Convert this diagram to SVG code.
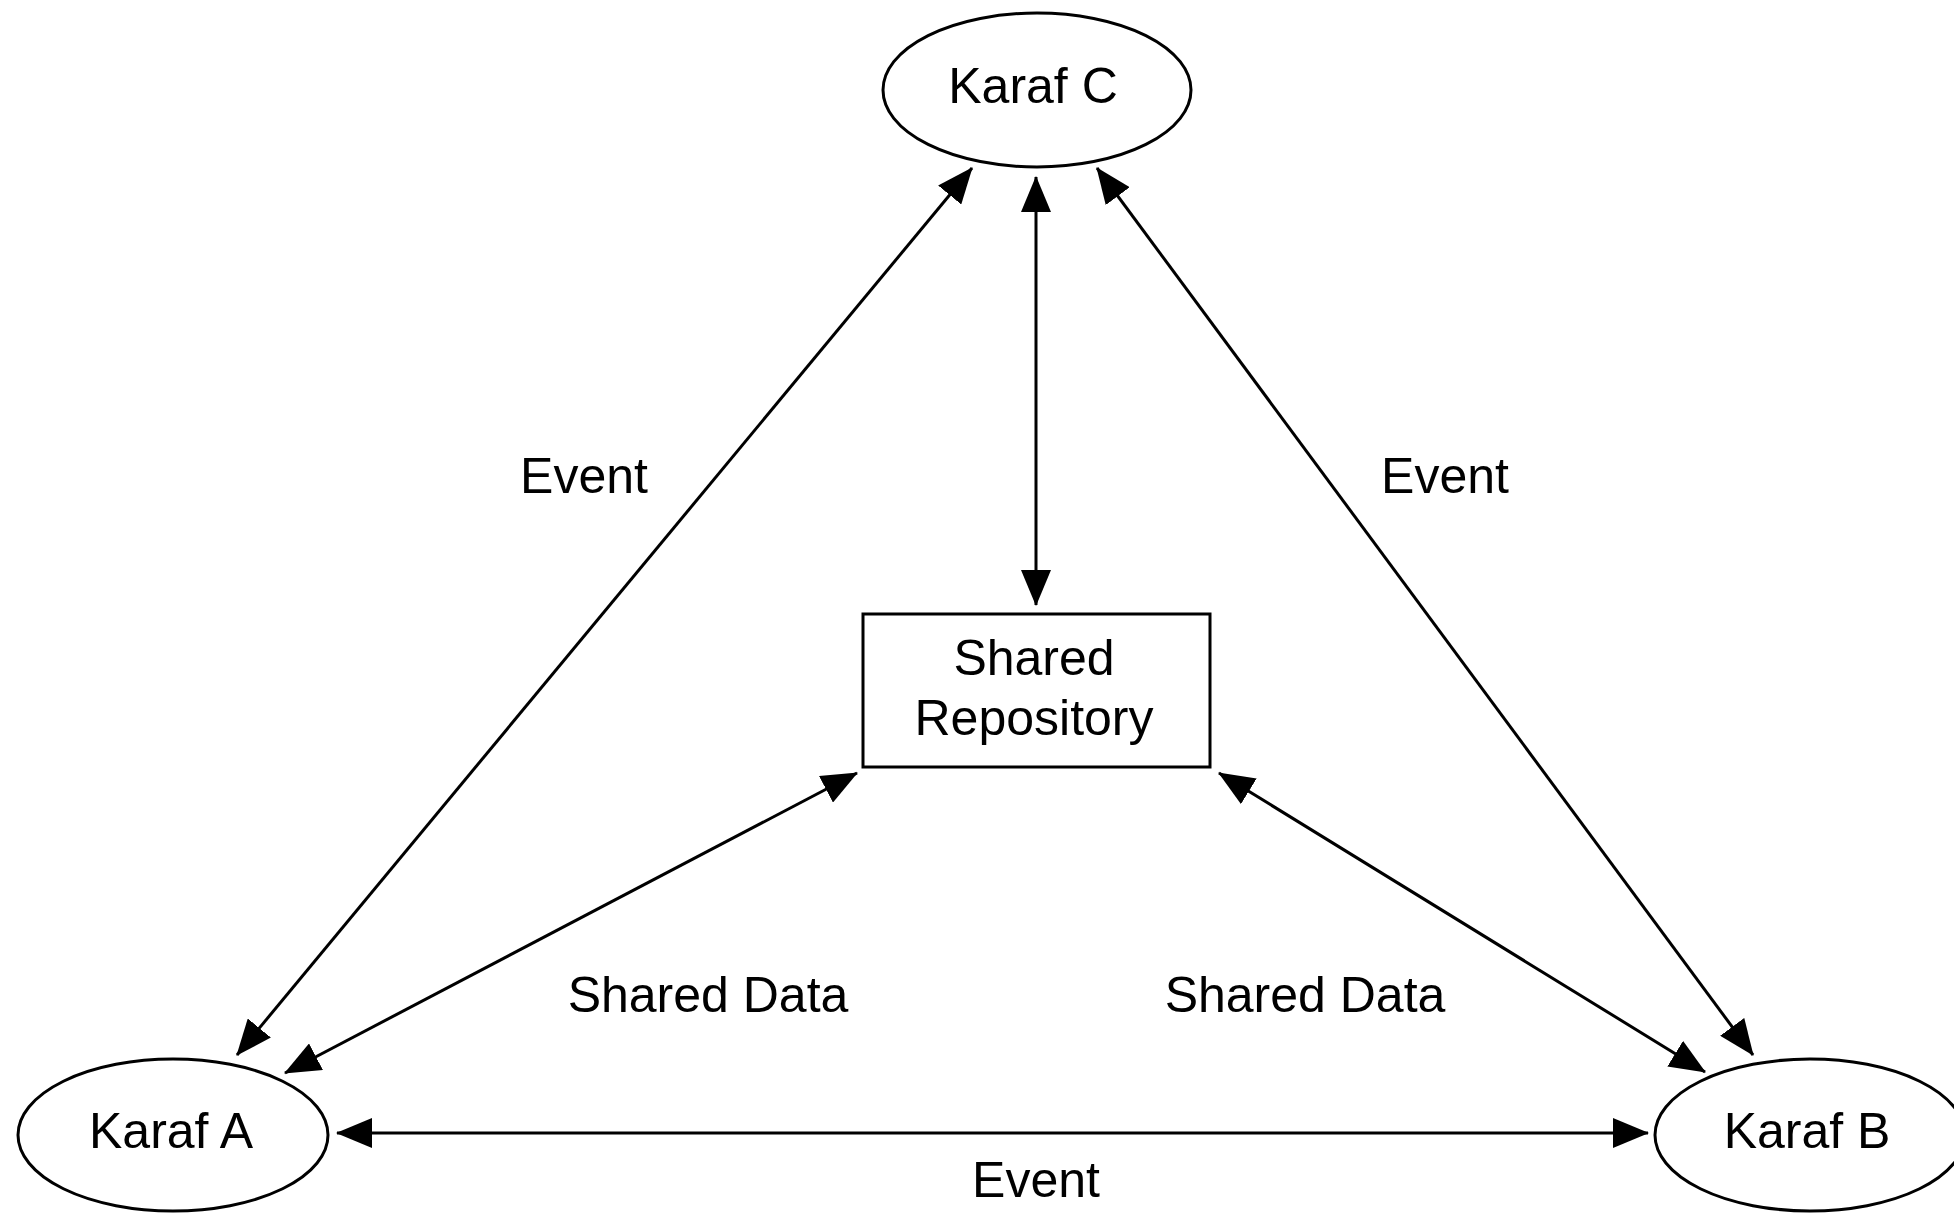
<svg xmlns="http://www.w3.org/2000/svg" width="1954" height="1213" viewBox="0 0 1954 1213">
  <style>
    .node { fill: #ffffff; stroke: #000000; stroke-width: 3; }
    .lbl { font-family: "Liberation Sans", Arial, Helvetica, sans-serif; font-size: 50px; fill: #000000; text-anchor: middle; }
    .edge { stroke: #000000; stroke-width: 3; fill: none; marker-start: url(#arr); marker-end: url(#arr); }
  </style>
  <defs>
    <marker id="arr" viewBox="0 0 36 30" refX="35" refY="15" markerWidth="36" markerHeight="30" markerUnits="userSpaceOnUse" orient="auto-start-reverse">
      <path d="M0,0 L36,15 L0,30 z" fill="#000000"/>
    </marker>
  </defs>
  <rect x="0" y="0" width="1954" height="1213" fill="#ffffff"/>

  <g id="connectors">
    <line class="edge" x1="1036" y1="177" x2="1036" y2="605"/>
    <line class="edge" x1="972" y1="168" x2="237" y2="1055"/>
    <line class="edge" x1="1097" y1="168" x2="1753" y2="1055"/>
    <line class="edge" x1="857" y1="773" x2="285" y2="1073"/>
    <line class="edge" x1="1219" y1="773" x2="1705" y2="1072"/>
    <line class="edge" x1="337" y1="1133" x2="1648" y2="1133"/>
  </g>

  <g id="karaf-c">
    <ellipse class="node" cx="1037" cy="90" rx="154" ry="77"/>
    <text class="lbl" x="1033" y="103">Karaf C</text>
  </g>
  <g id="karaf-a">
    <ellipse class="node" cx="173" cy="1135" rx="155" ry="76"/>
    <text class="lbl" x="171" y="1148">Karaf A</text>
  </g>
  <g id="karaf-b">
    <ellipse class="node" cx="1810" cy="1135" rx="155" ry="76"/>
    <text class="lbl" x="1807" y="1148">Karaf B</text>
  </g>
  <g id="shared-repository">
    <rect class="node" x="863" y="614" width="347" height="153"/>
    <text class="lbl" x="1034" y="675">Shared</text>
    <text class="lbl" x="1034" y="735">Repository</text>
  </g>

  <g id="labels">
    <text class="lbl" x="584" y="493">Event</text>
    <text class="lbl" x="1445" y="493">Event</text>
    <text class="lbl" x="708" y="1012">Shared Data</text>
    <text class="lbl" x="1305" y="1012">Shared Data</text>
    <text class="lbl" x="1036" y="1197">Event</text>
  </g>
</svg>
